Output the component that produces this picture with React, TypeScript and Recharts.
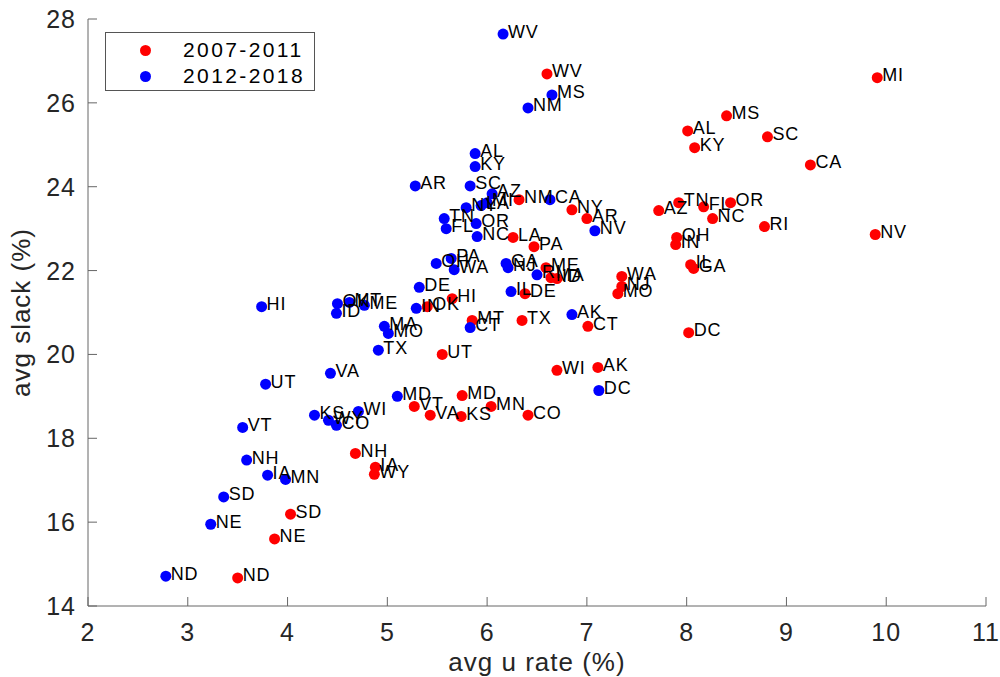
import { ScatterChart, Scatter, XAxis, YAxis, Legend } from 'recharts';

// 2007-2011 averages by state
const STATES_A = ['MI', 'WV', 'MS', 'AL', 'SC', 'KY', 'CA', 'TN', 'FL', 'OR', 'AZ', 'NC', 'RI', 'OH', 'IN', 'IL', 'GA',
  'WA', 'NJ', 'MO', 'NV', 'NY', 'AR', 'NM', 'LA', 'PA', 'ME', 'MA', 'ID', 'DE', 'AK', 'CT', 'DC', 'TX', 'MT', 'HI',
  'OK', 'UT', 'WI', 'MD', 'VT', 'VA', 'KS', 'MN', 'CO', 'NH', 'IA', 'WY', 'SD', 'NE', 'ND'];
const URATE_A = [9.91, 6.60, 8.40, 8.01, 8.81, 8.08, 9.24, 7.92, 8.17, 8.44, 7.72, 8.26, 8.78, 7.90, 7.89, 8.04, 8.07,
  7.35, 7.35, 7.31, 9.89, 6.85, 7.00, 6.32, 6.26, 6.47, 6.59, 6.64, 6.70, 6.38, 7.11, 7.01, 8.02, 6.35, 5.85, 5.65,
  5.40, 5.55, 6.70, 5.75, 5.27, 5.43, 5.74, 6.04, 6.41, 4.68, 4.88, 4.87, 4.03, 3.87, 3.50];
const SLACK_A = [26.60, 26.69, 25.69, 25.33, 25.19, 24.93, 24.52, 23.62, 23.52, 23.62, 23.43, 23.24, 23.05, 22.79, 22.62,
  22.14, 22.05, 21.86, 21.62, 21.45, 22.86, 23.45, 23.24, 23.69, 22.79, 22.57, 22.07, 21.83, 21.81, 21.45, 19.69, 20.67,
  20.52, 20.81, 20.81, 21.33, 21.14, 20.00, 19.62, 19.02, 18.76, 18.55, 18.52, 18.76, 18.55, 17.64, 17.31, 17.14, 16.19,
  15.60, 14.67];

// 2012-2018 averages by state
const STATES_B = ['WV', 'MS', 'NM', 'AL', 'KY', 'AR', 'SC', 'AZ', 'CA', 'NY', 'MI', 'LA', 'TN', 'FL', 'OR', 'NC', 'NV',
  'OH', 'PA', 'WA', 'GA', 'NJ', 'RI', 'IL', 'DE', 'AK', 'CT', 'HI', 'OK', 'MT', 'ID', 'ME', 'MA', 'MO', 'TX', 'VA', 'UT',
  'MD', 'WI', 'KS', 'WY', 'CO', 'VT', 'NH', 'IA', 'MN', 'SD', 'NE', 'ND', 'DC', 'IN'];
const URATE_B = [6.16, 6.65, 6.41, 5.88, 5.88, 5.28, 5.83, 6.05, 6.63, 5.79, 6.00, 5.94, 5.57, 5.59, 5.89, 5.90, 7.08,
  5.49, 5.64, 5.67, 6.19, 6.21, 6.50, 6.24, 5.32, 6.85, 5.83, 3.74, 4.50, 4.62, 4.49, 4.77, 4.97, 5.01, 4.91, 4.43, 3.78,
  5.10, 4.71, 4.27, 4.41, 4.49, 3.55, 3.59, 3.80, 3.98, 3.36, 3.23, 2.78, 7.12, 5.29];
const SLACK_B = [27.64, 26.19, 25.88, 24.79, 24.48, 24.02, 24.02, 23.83, 23.69, 23.50, 23.62, 23.55, 23.24, 23.00, 23.12,
  22.81, 22.95, 22.17, 22.29, 22.02, 22.17, 22.07, 21.90, 21.50, 21.60, 20.95, 20.64, 21.14, 21.21, 21.24, 20.98, 21.17,
  20.67, 20.50, 20.10, 19.55, 19.29, 19.00, 18.64, 18.55, 18.43, 18.31, 18.26, 17.48, 17.12, 17.02, 16.60, 15.95, 14.71,
  19.14, 21.10];

const X_TICKS = [2, 3, 4, 5, 6, 7, 8, 9, 10, 11];
const Y_TICKS = [14, 16, 18, 20, 22, 24, 26, 28];

const FONT = "'Liberation Sans', Arial, sans-serif";
const AXIS_COLOR = '#666666';
const TEXT_COLOR = '#262626';

const dataA = STATES_A.map((s, i) => ({ state: s, u: URATE_A[i], slack: SLACK_A[i] }));
const dataB = STATES_B.map((s, i) => ({ state: s, u: URATE_B[i], slack: SLACK_B[i] }));
const allLabels = [...dataA, ...dataB];

const Dot = (color: string) => (props: any) => (
  <circle cx={props.cx} cy={props.cy} r={5.5} fill={color} />
);

const StateLabel = (props: any) => (
  <text x={props.cx + 5} y={props.cy + 3.5} fontSize={18} fontFamily={FONT} fill="#000" letterSpacing={0.8}>
    {props.payload.state}
  </text>
);

const XTick = ({ x, y, payload }: any) => (
  <g>
    <line x1={x} x2={x} y1={y} y2={y - 9} stroke={AXIS_COLOR} />
    <text x={x} y={y + 35} textAnchor="middle" fontSize={25} fontFamily={FONT} fill={TEXT_COLOR} letterSpacing={1}>
      {payload.value}
    </text>
  </g>
);

const YTick = ({ x, y, payload }: any) => (
  <g>
    <line x1={x} x2={x + 9} y1={y} y2={y} stroke={AXIS_COLOR} />
    <text x={x - 12} y={y + 9} textAnchor="end" fontSize={25} fontFamily={FONT} fill={TEXT_COLOR} letterSpacing={1}>
      {payload.value}
    </text>
  </g>
);

const renderLegend = (props: any) => (
  <div
    style={{
      width: 210,
      height: 59,
      boxSizing: 'border-box',
      border: '1px solid #555',
      background: '#fff',
      fontFamily: FONT,
      fontSize: 21,
      color: '#000',
      paddingTop: 4,
    }}
  >
    {props.payload.map((entry: any) => (
      <div key={entry.value} style={{ display: 'flex', alignItems: 'center', height: 26 }}>
        <span
          style={{ display: 'inline-block', width: 11, height: 11, borderRadius: '50%', background: entry.color, marginLeft: 34 }}
        />
        <span style={{ marginLeft: 32, letterSpacing: 2.4 }}>{entry.value}</span>
      </div>
    ))}
  </div>
);

export default function App() {
  return (
    <div style={{ position: 'absolute', left: 0, top: 0, background: '#fff' }}>
      <ScatterChart width={1000} height={677} margin={{ top: 19, right: 14, bottom: 0, left: 0 }}>
        <XAxis
          type="number"
          dataKey="u"
          domain={[2, 11]}
          ticks={X_TICKS}
          interval={0}
          height={71}
          tickSize={0}
          tickMargin={0}
          tick={<XTick />}
          axisLine={{ stroke: AXIS_COLOR }}
          label={{
            content: (p: any) => (
              <text
                x={p.viewBox.x + p.viewBox.width / 2}
                y={p.viewBox.y + 65}
                textAnchor="middle"
                fontSize={26}
                fontFamily={FONT}
                fill={TEXT_COLOR}
                letterSpacing={1}
              >
                avg u rate (%)
              </text>
            ),
          }}
        />
        <YAxis
          type="number"
          dataKey="slack"
          domain={[14, 28]}
          ticks={Y_TICKS}
          interval={0}
          width={88}
          tickSize={0}
          tickMargin={0}
          tick={<YTick />}
          axisLine={{ stroke: AXIS_COLOR }}
          label={{
            content: (p: any) => {
              const cx = 21;
              const cy = p.viewBox.y + p.viewBox.height / 2;
              return (
                <text
                  x={cx}
                  y={cy}
                  transform={`rotate(-90 ${cx} ${cy})`}
                  textAnchor="middle"
                  dominantBaseline="central"
                  fontSize={26}
                  fontFamily={FONT}
                  fill={TEXT_COLOR}
                  letterSpacing={1}
                >
                  avg slack (%)
                </text>
              );
            },
          }}
        />
        <Legend
          layout="vertical"
          align="center"
          verticalAlign="middle"
          wrapperStyle={{ left: 105, top: 32, width: 210, height: 59 }}
          content={renderLegend}
        />
        <Scatter name="2007-2011" data={dataA} fill="#ff0000" shape={Dot('#ff0000')} isAnimationActive={false} />
        <Scatter name="2012-2018" data={dataB} fill="#0000ff" shape={Dot('#0000ff')} isAnimationActive={false} />
        <Scatter data={allLabels} legendType="none" shape={StateLabel} isAnimationActive={false} />
      </ScatterChart>
    </div>
  );
}
